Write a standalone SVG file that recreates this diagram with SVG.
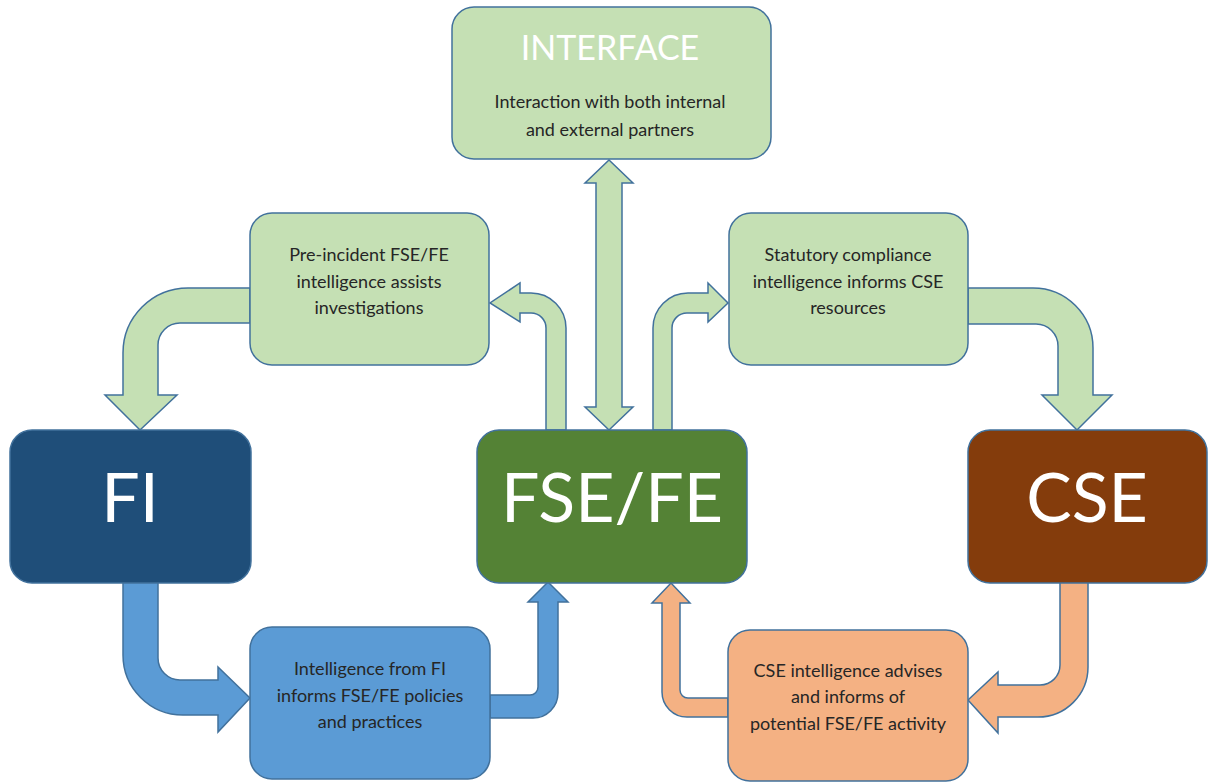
<svg xmlns="http://www.w3.org/2000/svg" width="1208" height="783" viewBox="0 0 1208 783">
<style>
.box{stroke:#41719C;stroke-width:1.5}
.lg{fill:#C5E0B4}
.bl{fill:#5B9BD5}
.or{fill:#F4B183}
.arr{stroke:#41719C;stroke-width:1.5;stroke-linejoin:miter}
.t{font-family:Lato,"Open Sans",sans-serif;font-size:18px;fill:#262626;text-anchor:middle}
.big{font-family:Lato,"Open Sans",sans-serif;font-size:68px;fill:#FFFFFF;text-anchor:middle}
.ttl{font-family:Lato,"Open Sans",sans-serif;font-size:34px;fill:#FFFFFF;text-anchor:middle}
</style>
<rect width="1208" height="783" fill="#FFFFFF"/>
<g id="connectors">
<path class="arr lg" d="M 609 160 L 633 183 L 622 183 L 622 407 L 633 407 L 609 430 L 585 407 L 596 407 L 596 183 L 585 183 Z"/>
<path class="arr lg" d="M 546 430 L 546 328 A 15 15 0 0 0 531 313 L 520 313 L 520 322 L 490 303 L 520 283 L 520 293 L 531 293 A 35 35 0 0 1 566 328 L 566 430 Z"/>
<path class="arr lg" d="M 672 430 L 672 328 A 15 15 0 0 1 687 313 L 708 313 L 708 322 L 728 303 L 708 283 L 708 293 L 688 293 A 35 35 0 0 0 653 328 L 653 430 Z"/>
<path class="arr lg" d="M 250 288 L 188 288 A 65 65 0 0 0 123 353 L 123 395 L 105 395 L 140 430 L 177 395 L 158 395 L 158 345 A 22 22 0 0 1 180 323 L 250 323 Z"/>
<path class="arr lg" d="M 968 288 L 1033 288 A 60 60 0 0 1 1093 348 L 1093 395 L 1112 395 L 1077 430 L 1042 395 L 1058 395 L 1058 346 A 22 22 0 0 0 1036 324 L 968 324 Z"/>
<path class="arr bl" d="M 123 582 L 123 655 A 60 60 0 0 0 183 715 L 218 715 L 218 732 L 250 698 L 218 667 L 218 680 L 180 680 A 22 22 0 0 1 158 658 L 158 582 Z"/>
<path class="arr bl" d="M 490 695 L 530 695 A 8 8 0 0 0 538 687 L 538 602 L 528 602 L 548 582 L 568 602 L 558 602 L 558 693 A 25 25 0 0 1 533 718 L 490 718 Z"/>
<path class="arr or" d="M 1088 582 L 1088 667 A 50 50 0 0 1 1038 717 L 998 717 L 998 733 L 968 700 L 998 672 L 998 685 L 1040 685 A 20 20 0 0 0 1060 665 L 1060 582 Z"/>
<path class="arr or" d="M 728 698 L 688 698 A 8 8 0 0 1 680 690 L 680 603 L 690 603 L 671 583 L 652 603 L 662 603 L 662 692 A 25 25 0 0 0 687 717 L 728 717 Z"/>
</g>
<g id="interface">
<rect class="box lg" x="452" y="7" width="319" height="152" rx="22"/>
<text class="ttl" x="610" y="60">INTERFACE</text>
<text class="t" x="610" y="108">Interaction with both internal</text>
<text class="t" x="610" y="136">and external partners</text>
</g>
<g id="pre-incident">
<rect class="box lg" x="250" y="213" width="239" height="152" rx="22"/>
<text class="t" x="369" y="261">Pre-incident FSE/FE</text>
<text class="t" x="369" y="288">intelligence assists</text>
<text class="t" x="369" y="314">investigations</text>
</g>
<g id="statutory">
<rect class="box lg" x="729" y="213" width="239" height="152" rx="22"/>
<text class="t" x="848" y="261">Statutory compliance</text>
<text class="t" x="848" y="288">intelligence informs CSE</text>
<text class="t" x="848" y="314">resources</text>
</g>
<g id="fi">
<rect class="box" fill="#1F4E79" x="10" y="430" width="241" height="153" rx="22"/>
<text class="big" x="130" y="522">FI</text>
</g>
<g id="fsefe">
<rect class="box" fill="#548235" x="477" y="430" width="270" height="153" rx="22"/>
<text class="big" x="612" y="522">FSE/FE</text>
</g>
<g id="cse">
<rect class="box" fill="#843C0C" x="968" y="430" width="239" height="153" rx="22"/>
<text class="big" x="1087" y="522">CSE</text>
</g>
<g id="intel-fi">
<rect class="box bl" x="250" y="627" width="240" height="152" rx="22"/>
<text class="t" x="370" y="675">Intelligence from FI</text>
<text class="t" x="370" y="702">informs FSE/FE policies</text>
<text class="t" x="370" y="728">and practices</text>
</g>
<g id="cse-intel">
<rect class="box or" x="728" y="630" width="240" height="151" rx="22"/>
<text class="t" x="848" y="677">CSE intelligence advises</text>
<text class="t" x="848" y="703">and informs of</text>
<text class="t" x="848" y="730">potential FSE/FE activity</text>
</g>
</svg>
